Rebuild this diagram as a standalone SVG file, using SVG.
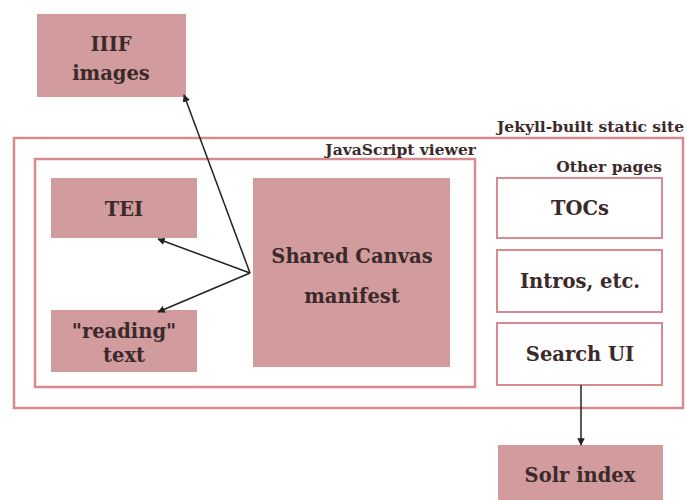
<svg xmlns="http://www.w3.org/2000/svg" width="687" height="500" viewBox="0 0 687 500">
<style>
.fill{fill:#d29c9f;stroke:none}
.outline{fill:none;stroke:#d88a90;stroke-width:2.5}
.obox{fill:#fff;stroke:#d88a90;stroke-width:2}
.t{font-family:"DejaVu Serif","Liberation Serif",serif;font-weight:bold;font-size:19.5px;fill:#3b2a2a;text-anchor:middle}
.lbl{font-family:"DejaVu Serif","Liberation Serif",serif;font-weight:bold;font-size:15.5px;fill:#3b2a2a;text-anchor:end}
.c{stroke:#222;stroke-width:1.5;fill:none;marker-end:url(#ah)}
</style>
<defs>
<marker id="ah" viewBox="0 0 10 10" refX="9" refY="5" markerWidth="5" markerHeight="5" orient="auto"><path d="M0,0 L10,5 L0,10 z" fill="#222"/></marker>
</defs>
<rect width="687" height="500" fill="#fff"/>
<g id="jekyll">
<rect class="outline" x="14" y="138" width="669" height="270"/>
<text class="lbl" x="684" y="132">Jekyll-built static site</text>
</g>
<g id="jsviewer">
<rect class="outline" x="35" y="159" width="440" height="228"/>
<text class="lbl" x="476" y="155">JavaScript viewer</text>
</g>
<g id="otherpages">
<text class="lbl" x="662" y="172">Other pages</text>
</g>
<g id="iiif">
<rect class="fill" x="37" y="14" width="149" height="83"/>
<text class="t" x="111" y="51">IIIF</text>
<text class="t" x="111" y="80">images</text>
</g>
<g id="tei">
<rect class="fill" x="51" y="178" width="146" height="60"/>
<text class="t" x="124" y="216">TEI</text>
</g>
<g id="reading">
<rect class="fill" x="51" y="310" width="146" height="62"/>
<text class="t" x="124" y="338">"reading"</text>
<text class="t" x="124" y="362">text</text>
</g>
<g id="manifest">
<rect class="fill" x="253" y="178" width="197" height="189"/>
<text class="t" x="352" y="263">Shared Canvas</text>
<text class="t" x="352" y="303">manifest</text>
</g>
<g id="tocs">
<rect class="obox" x="497" y="178" width="165" height="60"/>
<text class="t" x="580" y="215">TOCs</text>
</g>
<g id="intros">
<rect class="obox" x="497" y="250" width="165" height="62"/>
<text class="t" x="580" y="288">Intros, etc.</text>
</g>
<g id="search">
<rect class="obox" x="497" y="323" width="165" height="62"/>
<text class="t" x="580" y="361">Search UI</text>
</g>
<g id="solr">
<rect class="fill" x="498" y="445" width="165" height="55"/>
<text class="t" x="580" y="482">Solr index</text>
</g>
<g id="connectors">
<line class="c" x1="250" y1="273" x2="184" y2="95"/>
<line class="c" x1="250" y1="273" x2="158" y2="239"/>
<line class="c" x1="250" y1="273" x2="158" y2="312"/>
<line class="c" x1="581" y1="385" x2="581" y2="445"/>
</g>
</svg>
